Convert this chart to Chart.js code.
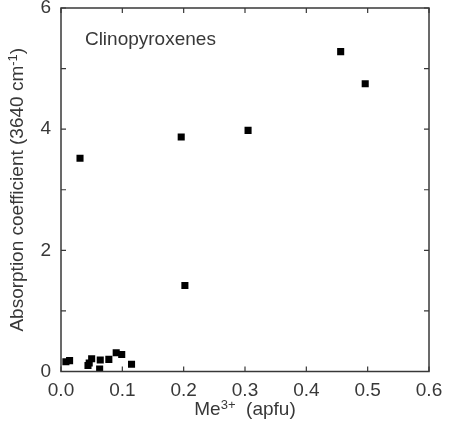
<!DOCTYPE html>
<html>
<head>
<meta charset="utf-8">
<script src="https://cdn.jsdelivr.net/npm/chart.js"></script>
<style>
  html, body { margin: 0; padding: 0; background: #fff; }
  #wrap { width: 449px; height: 432px; }
</style>
</head>
<body>
<div id="wrap"><canvas id="myChart" width="449" height="432"></canvas></div>
<script>
// datos
const meValues = [0.008, 0.014, 0.044, 0.046, 0.050, 0.063, 0.064, 0.078, 0.090, 0.099, 0.115,
                  0.031, 0.196, 0.202, 0.305, 0.456, 0.496];
const absorption = [0.16, 0.18, 0.10, 0.14, 0.21, 0.04, 0.19, 0.20, 0.31, 0.28, 0.12,
                    3.52, 3.87, 1.42, 3.98, 5.28, 4.75];
const xTicks = [0, 0.1, 0.2, 0.3, 0.4, 0.5, 0.6];
const yTicks = [0, 1, 2, 3, 4, 5, 6];
const yLabels = ['0', '', '2', '', '4', '', '6'];
const groupLabel = 'Clinopyroxenes';

const ink = '#383838';
const font = 'Liberation Sans, Arial, Helvetica, sans-serif';
const big = 19, small = 13;

// marco, marcas hacia dentro y textos
const framePlugin = {
  id: 'frame',
  afterDraw(chart) {
    const c = chart.ctx, a = chart.chartArea;
    const sx = chart.scales.x, sy = chart.scales.y;
    c.save();
    c.strokeStyle = ink;
    c.lineWidth = 1.5;
    c.strokeRect(a.left, a.top, a.right - a.left, a.bottom - a.top);
    c.lineWidth = 1.2;
    const t = 5;
    c.beginPath();
    xTicks.forEach(v => {
      const px = sx.getPixelForValue(v);
      c.moveTo(px, a.bottom); c.lineTo(px, a.bottom - t);
      c.moveTo(px, a.top); c.lineTo(px, a.top + t);
    });
    yTicks.forEach(v => {
      const py = sy.getPixelForValue(v);
      c.moveTo(a.left, py); c.lineTo(a.left + t, py);
      c.moveTo(a.right, py); c.lineTo(a.right - t, py);
    });
    c.stroke();

    c.fillStyle = ink;
    c.textBaseline = 'middle';
    // etiqueta del grupo
    c.font = big + 'px ' + font;
    c.textAlign = 'left';
    c.fillText(groupLabel, sx.getPixelForValue(0.039), sy.getPixelForValue(5.47));

    // titulo eje x: Me3+ (apfu)
    const cx = (a.left + a.right) / 2, ty = 410;
    c.font = big + 'px ' + font;
    const w1 = c.measureText('Me').width;
    c.font = small + 'px ' + font;
    const w2 = c.measureText('3+').width;
    c.font = big + 'px ' + font;
    const w3 = c.measureText('  (apfu)').width;
    let x0 = cx - (w1 + w2 + w3) / 2;
    c.fillText('Me', x0, ty);
    c.font = small + 'px ' + font;
    c.fillText('3+', x0 + w1, ty - 5);
    c.font = big + 'px ' + font;
    c.fillText('  (apfu)', x0 + w1 + w2, ty);

    // titulo eje y
    c.translate(18, (a.top + a.bottom) / 2);
    c.rotate(-Math.PI / 2);
    const s1 = 'Absorption coefficient (3640 cm';
    c.font = big + 'px ' + font;
    const v1 = c.measureText(s1).width;
    c.font = small + 'px ' + font;
    const v2 = c.measureText('-1').width;
    c.font = big + 'px ' + font;
    const v3 = c.measureText(')').width;
    let y0 = -(v1 + v2 + v3) / 2;
    c.fillText(s1, y0, 0);
    c.font = small + 'px ' + font;
    c.fillText('-1', y0 + v1, -5);
    c.font = big + 'px ' + font;
    c.fillText(')', y0 + v1 + v2, 0);
    c.restore();
  }
};

let ctx = document.getElementById('myChart').getContext('2d');
let chart = new Chart(ctx, {
  type: 'scatter',
  data: {
    datasets: [{
      label: groupLabel,
      data: meValues.map((v, i) => ({ x: v, y: absorption[i] })),
      backgroundColor: '#000000',
      borderColor: '#000000',
      borderWidth: 0,
      pointStyle: 'rect',
      pointRadius: 5,
      pointHoverRadius: 5
    }]
  },
  options: {
    responsive: false,
    animation: false,
    events: [],
    layout: { padding: { top: 8, right: 20, left: 0, bottom: 0 } },
    plugins: { legend: { display: false }, tooltip: { enabled: false } },
    scales: {
      x: {
        type: 'linear',
        min: 0, max: 0.6,
        afterBuildTicks: s => { s.ticks = xTicks.map(v => ({ value: v })); },
        afterFit: s => { s.height = 60.5; s.paddingLeft = 0; s.paddingRight = 0; },
        grid: { display: false, drawTicks: false },
        border: { display: false },
        ticks: {
          padding: 8,
          color: ink,
          font: { family: font, size: big },
          callback: v => v.toFixed(1)
        }
      },
      y: {
        type: 'linear',
        min: 0, max: 6,
        afterBuildTicks: s => { s.ticks = yTicks.map(v => ({ value: v })); },
        afterFit: s => { s.width = 61; s.paddingTop = 0; s.paddingBottom = 0; },
        grid: { display: false, drawTicks: false },
        border: { display: false },
        ticks: {
          padding: 10,
          color: ink,
          font: { family: font, size: big },
          callback: (v, i) => yLabels[i]
        }
      }
    }
  },
  plugins: [framePlugin]
});
</script>
</body>
</html>
